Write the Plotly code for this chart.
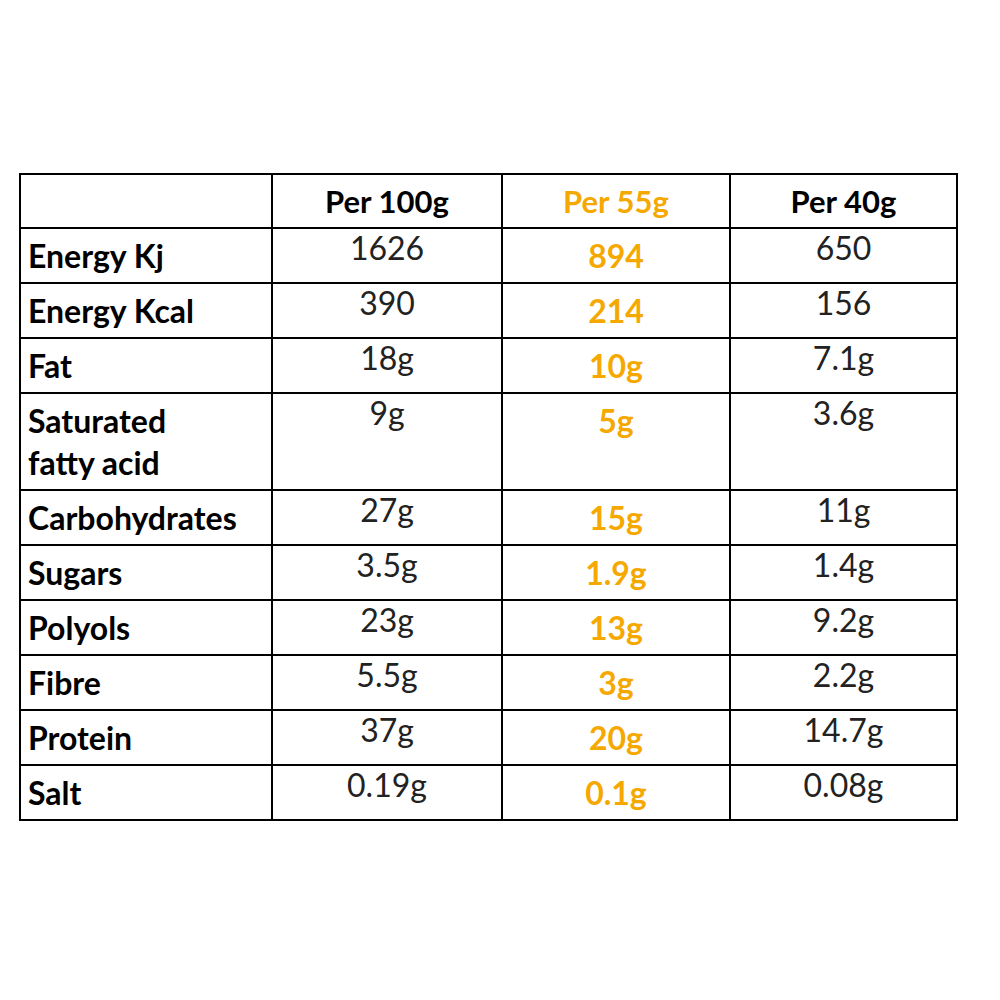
import plotly.graph_objects as go

headers = ["", "Per 100g", "Per 55g", "Per 40g"]
nutrients = ["Energy Kj", "Energy Kcal", "Fat", "Saturated<br>fatty acid", "Carbohydrates",
             "Sugars", "Polyols", "Fibre", "Protein", "Salt"]
per_100g = ["1626", "390", "18g", "9g", "27g", "3.5g", "23g", "5.5g", "37g", "0.19g"]
per_55g = ["894", "214", "10g", "5g", "15g", "1.9g", "13g", "3g", "20g", "0.1g"]
per_40g = ["650", "156", "7.1g", "3.6g", "11g", "1.4g", "9.2g", "2.2g", "14.7g", "0.08g"]

orange = "#F5A800"
font = "Lato"

fig = go.Figure(go.Table(
    columnwidth=[252, 230, 228, 227],
    header=dict(
        values=["<b>%s</b>" % h for h in headers],
        align="center",
        height=54,
        line=dict(color="black", width=2),
        fill_color="white",
        font=dict(family=font, size=31, color=["black", "black", orange, "black"]),
    ),
    cells=dict(
        values=[["<b>%s</b>" % n for n in nutrients], per_100g,
                ["<b>%s</b>" % v for v in per_55g], per_40g],
        align=["left", "center", "center", "center"],
        height=55,
        line=dict(color="black", width=2),
        fill_color="white",
        font=dict(family=font, size=32, color=["black", "#222", orange, "#222"]),
    ),
    domain=dict(x=[0.012, 0.949], y=[0.15, 0.834]),
))
fig.update_layout(width=1000, height=1000, margin=dict(l=0, r=0, t=0, b=0),
                  paper_bgcolor="white")
fig.write_html("out.html")
